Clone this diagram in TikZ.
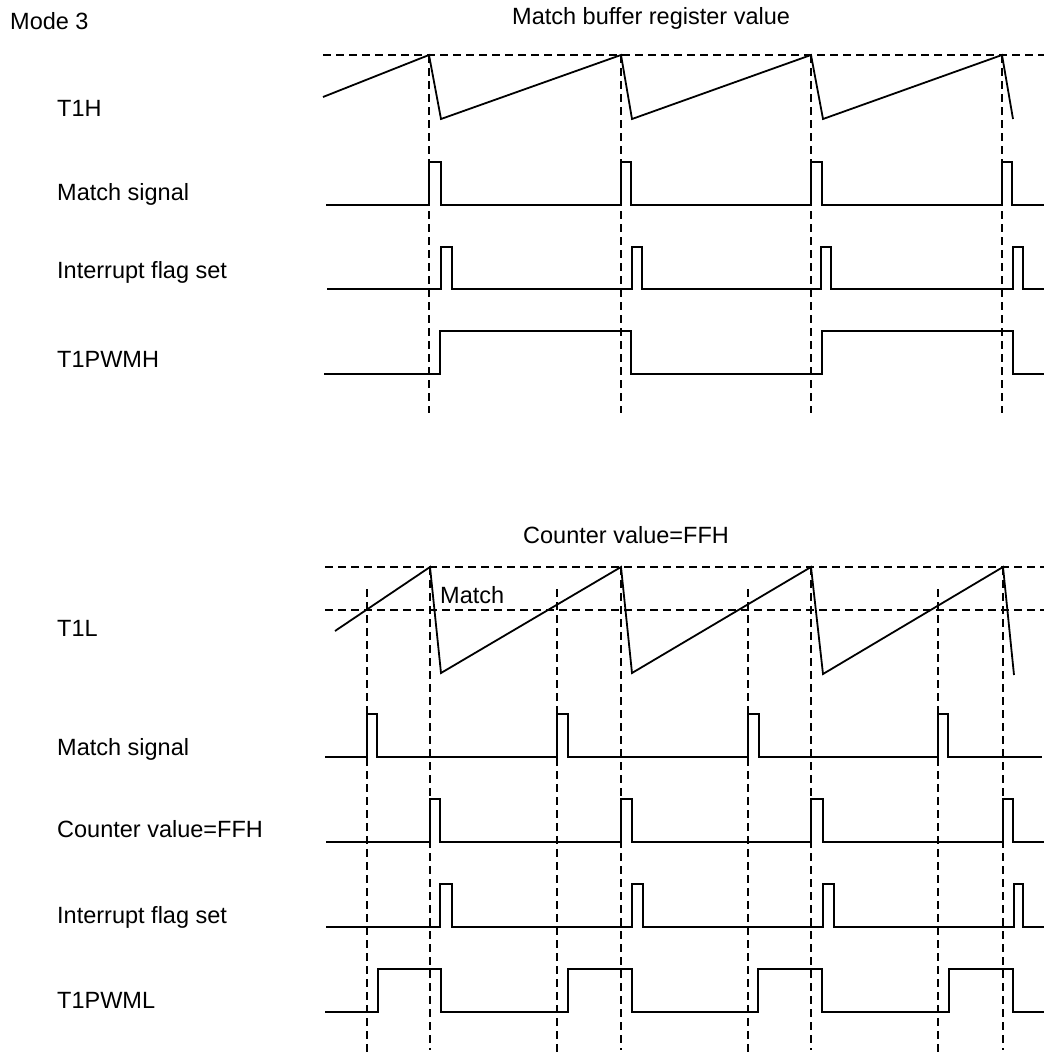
\documentclass[tikz,border=0pt]{standalone}
\usepackage{fontspec}
\setmainfont{Liberation Sans}
\begin{document}
\begin{tikzpicture}[x=1pt,y=-1pt,
  lbl/.style={anchor=base west,inner sep=0pt,font=\fontsize{23.5}{28}\selectfont},
  wave/.style={line width=1.8pt,line join=miter},
  guide/.style={line width=1.8pt,dash pattern=on 8pt off 5pt}]
\useasboundingbox (0,0) rectangle (1044,1057);
% ---------- labels ----------
\node[lbl] (mode) at (10,30) {Mode 3};
\node[lbl] (mbrv) at (512,25) {Match buffer register value};
\node[lbl] (t1h) at (57,116) {T1H};
\node[lbl] (ms1) at (57,200) {Match signal};
\node[lbl] (if1) at (57,278) {Interrupt flag set};
\node[lbl] (pwmh) at (57,367) {T1PWMH};
\node[lbl] (cvt) at (523,543) {Counter value=FFH};
\node[lbl] (matchlbl) at (440,603) {Match};
\node[lbl] (t1l) at (57,636) {T1L};
\node[lbl] (ms2) at (57,755) {Match signal};
\node[lbl] (cv2) at (57,837) {Counter value=FFH};
\node[lbl] (if2) at (57,923) {Interrupt flag set};
\node[lbl] (pwml) at (57,1008) {T1PWML};
% ---------- upper section ----------
\draw[guide] (323,55) -- (1044,55);
\foreach \x in {429,621,811,1002} \draw[guide] (\x,55) -- (\x,413);
\draw[wave] (323,97)--(429,55)--(441,119)--(621,55)--(632,119)--(811,55)--(823,119)--(1002,55)--(1013,119);
\draw[wave] (326,205)--(429,205)--(429,162)--(441,162)--(441,205)--(621,205)--(621,162)--(631,162)--(631,205)--(811,205)--(811,162)--(822,162)--(822,205)--(1002,205)--(1002,162)--(1012,162)--(1012,205)--(1044,205);
\draw[wave] (327,289)--(441,289)--(441,247)--(452,247)--(452,289)--(632,289)--(632,247)--(642,247)--(642,289)--(821,289)--(821,247)--(831,247)--(831,289)--(1013,289)--(1013,247)--(1023,247)--(1023,289)--(1044,289);
\draw[wave] (324,374)--(440,374)--(440,331)--(631,331)--(631,374)--(822,374)--(822,331)--(1013,331)--(1013,374)--(1044,374);
% ---------- lower section ----------
\draw[guide] (325,567) -- (1044,567);
\draw[guide] (325,610) -- (1044,610);
\foreach \x in {430,621,811,1003} \draw[guide] (\x,567) -- (\x,1050);
\foreach \x in {367,557,748,938} \draw[guide] (\x,589) -- (\x,1057);
\draw[wave] (335,631)--(430,567)--(441,673)--(621,567)--(632,673)--(811,567)--(823,674)--(1003,567)--(1014,675);
\draw[wave] (325,757)--(367,757)--(367,714)--(377,714)--(377,757)--(557,757)--(557,714)--(568,714)--(568,757)--(748,757)--(748,714)--(759,714)--(759,757)--(938,757)--(938,714)--(948,714)--(948,757)--(1042,757);
\draw[wave] (326,842)--(430,842)--(430,799)--(440,799)--(440,842)--(621,842)--(621,799)--(632,799)--(632,842)--(811,842)--(811,799)--(823,799)--(823,842)--(1003,842)--(1003,799)--(1013,799)--(1013,842)--(1044,842);
\draw[wave] (326,927)--(440,927)--(440,884)--(452,884)--(452,927)--(632,927)--(632,884)--(643,884)--(643,927)--(823,927)--(823,884)--(834,884)--(834,927)--(1014,927)--(1014,884)--(1023,884)--(1023,927)--(1044,927);
\draw[wave] (325,1012)--(378,1012)--(378,969)--(441,969)--(441,1012)--(568,1012)--(568,969)--(632,969)--(632,1012)--(758,1012)--(758,969)--(822,969)--(822,1012)--(949,1012)--(949,969)--(1013,969)--(1013,1012)--(1044,1012);
\end{tikzpicture}
\end{document}
